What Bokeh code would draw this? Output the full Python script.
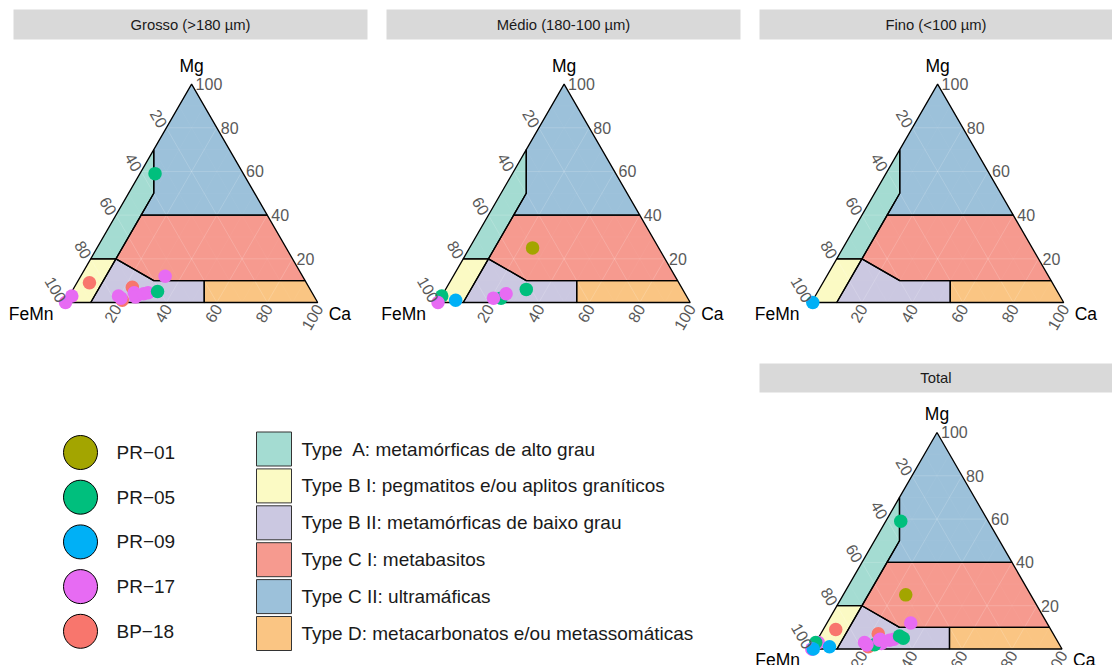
import numpy as np
from bokeh.plotting import figure
from bokeh.models import Range1d, ColumnDataSource
from bokeh.embed import file_html
from bokeh.resources import INLINE
from bokeh.core.properties import value

W, H = 1112, 665
FONT = value("Liberation Sans")

# ---------------------------------------------------------------- samples
sample_names = ["PR-01", "PR-05", "PR-09", "PR-17", "BP-18"]
sample_labels = ["PR\u221201", "PR\u221205", "PR\u221209", "PR\u221217", "BP\u221218"]
sample_colors = ["#A3A500", "#00BF7D", "#00B0F6", "#E76BF3", "#F8766D"]

# Grosso (>180 µm) -- Ca, Mg, FeMn (%)
grosso_sample = ["BP-18", "BP-18", "BP-18",
                 "PR-17", "PR-17", "PR-17", "PR-17", "PR-17", "PR-17", "PR-17", "PR-17", "PR-17",
                 "PR-05", "PR-05"]
grosso_ca = [5, 23, 22, 0, 1, 19.5, 21, 25, 26.5, 29, 30.5, 33.5, 6, 34]
grosso_mg = [9, 7, 1, 0, 3, 3, 2, 4.5, 2.5, 4, 4.5, 12, 59, 5]
grosso_femn = [86, 70, 77, 100, 96, 77.5, 77, 70.5, 71, 67, 65, 54.5, 35, 61]

# Médio (180-100 µm)
medio_sample = ["PR-05", "PR-05", "PR-05", "PR-09", "PR-17", "PR-17", "PR-17", "PR-01"]
medio_ca = [0, 24, 32, 6.5, 0, 21, 25, 25]
medio_mg = [3, 2, 6, 1, 0, 2, 4, 25]
medio_femn = [97, 74, 62, 92.5, 100, 77, 71, 50]

# Fino (<100 µm)
fino_sample = ["PR-09"]
fino_ca = [0.5]
fino_mg = [0]
fino_femn = [99.5]

# ---------------------------------------------------------------- garnet fields
type_labels = ["Type\u00a0 A: metam\u00f3rficas de alto grau",
               "Type B I: pegmatitos e/ou aplitos gran\u00edticos",
               "Type B II: metam\u00f3rficas de baixo grau",
               "Type C I: metabasitos",
               "Type C II: ultram\u00e1ficas",
               "Type D: metacarbonatos e/ou metassom\u00e1ticas"]
type_colors = ["#A4DCD2", "#FBFAC4", "#CBC8E1", "#F69A8F", "#9CC1DA", "#FAC583"]
# field corners as (Ca, Mg, FeMn)
type_fields = [
    [(0, 70, 30), (10, 50, 40), (10, 40, 50), (10, 20, 70), (0, 20, 80)],
    [(0, 20, 80), (10, 20, 70), (10, 0, 90), (0, 0, 100)],
    [(10, 20, 70), (30, 10, 60), (50, 10, 40), (55, 0, 45), (10, 0, 90)],
    [(10, 40, 50), (60, 40, 0), (90, 10, 0), (30, 10, 60), (10, 20, 70)],
    [(0, 100, 0), (60, 40, 0), (10, 40, 50), (10, 50, 40), (0, 70, 30)],
    [(50, 10, 40), (90, 10, 0), (100, 0, 0), (55, 0, 45)],
]

axis_ticks = [20, 40, 60, 80, 100]

# ---------------------------------------------------------------- panels (screen layout)
S3 = np.sqrt(3) / 2
panels = [
    dict(title="Grosso (>180 \u00b5m)", left=65.0, base=302.0, side=252.2, strip=(13, 367, 9, 39),
         sample=grosso_sample, ca=grosso_ca, mg=grosso_mg, femn=grosso_femn),
    dict(title="M\u00e9dio (180-100 \u00b5m)", left=437.5, base=302.0, side=252.2, strip=(386, 740, 9, 39),
         sample=medio_sample, ca=medio_ca, mg=medio_mg, femn=medio_femn),
    dict(title="Fino (<100 \u00b5m)", left=811.0, base=302.0, side=252.2, strip=(759, 1112, 9, 39),
         sample=fino_sample, ca=fino_ca, mg=fino_mg, femn=fino_femn),
    dict(title="Total", left=811.5, base=648.5, side=250.0, strip=(759, 1112, 363, 392),
         sample=grosso_sample + medio_sample + fino_sample,
         ca=grosso_ca + medio_ca + fino_ca,
         mg=grosso_mg + medio_mg + fino_mg,
         femn=grosso_femn + medio_femn + fino_femn),
]


def tern_xy(ca, mg, femn, pn):
    ca = np.asarray(ca, float)
    mg = np.asarray(mg, float)
    femn = np.asarray(femn, float)
    tot = ca + mg + femn
    a, b = ca / tot, mg / tot
    x = pn["left"] + pn["side"] * (a + b / 2)
    y = H - (pn["base"] - pn["side"] * S3 * b)
    return x, y


p = figure(width=W, height=H, x_range=Range1d(0, W), y_range=Range1d(0, H),
           output_backend="svg", toolbar_location=None, min_border=0,
           x_axis_location=None, y_axis_location=None)
p.grid.visible = False
p.outline_line_color = None
p.background_fill_color = "white"
p.border_fill_color = "white"

color_of = dict(zip(sample_names, sample_colors))
TICK_SIZE = "16px"

for pn in panels:
    # strip
    x0, x1, y0, y1 = pn["strip"]
    p.quad(left=x0, right=x1, top=H - y0, bottom=H - y1,
           fill_color="#D9D9D9", line_color=None)
    p.text(x=[(x0 + x1) / 2], y=[H - (y0 + y1) / 2], text=[pn["title"]],
           text_align="center", text_baseline="middle", text_font=FONT,
           text_font_size="14.8px", text_color="#1A1A1A")

    # fields
    xs, ys = [], []
    for field in type_fields:
        c, m, f = zip(*field)
        fx, fy = tern_xy(c, m, f, pn)
        xs.append(list(fx))
        ys.append(list(fy))
    p.patches(xs=xs, ys=ys, fill_color=type_colors, line_color=None)

    # faint grid
    gx, gy, gmx, gmy = [], [], [], []
    for v in range(10, 100, 10):
        w = 100 - v
        segs = [((v, 0, w), (v, w, 0)),      # constant Ca
                ((0, v, w), (w, v, 0)),      # constant Mg
                ((0, w, v), (w, 0, v))]      # constant FeMn
        for s0, s1 in segs:
            sx, sy = tern_xy([s0[0], s1[0]], [s0[1], s1[1]], [s0[2], s1[2]], pn)
            if v % 20 == 0:
                gx.append(list(sx)); gy.append(list(sy))
            else:
                gmx.append(list(sx)); gmy.append(list(sy))
    p.multi_line(xs=gmx, ys=gmy, line_color="white", line_alpha=0.07, line_width=0.6)
    p.multi_line(xs=gx, ys=gy, line_color="white", line_alpha=0.17, line_width=1)

    # field outlines
    p.patches(xs=xs, ys=ys, fill_color=None, line_color="black", line_width=1.3)

    # points
    px, py = tern_xy(pn["ca"], pn["mg"], pn["femn"], pn)
    src = ColumnDataSource(dict(x=px, y=py, c=[color_of[s] for s in pn["sample"]]))
    p.scatter("x", "y", source=src, size=13.5, fill_color="c", line_color=None)

    # tick labels: Mg (right edge)
    t = np.array(axis_ticks, float)
    rx, ry = tern_xy(100 - t, t, 0 * t, pn)
    p.text(x=rx + 4, y=ry, text=[str(int(v)) for v in t], text_align="left",
           text_baseline="middle", text_font=FONT, text_font_size=TICK_SIZE,
           text_color="#595959")
    # FeMn (left edge)
    lx, ly = tern_xy(0 * t, 100 - t, t, pn)
    p.text(x=lx - 3, y=ly + 1.5, text=[str(int(v)) for v in t], angle=-np.pi / 3,
           text_align="right", text_baseline="middle", text_font=FONT,
           text_font_size=TICK_SIZE, text_color="#595959")
    # Ca (bottom edge)
    bx, by = tern_xy(t, 0 * t, 100 - t, pn)
    p.text(x=bx + 1, y=by - 3, text=[str(int(v)) for v in t], angle=np.pi / 3,
           text_align="right", text_baseline="middle", text_font=FONT,
           text_font_size=TICK_SIZE, text_color="#595959")

    # vertex titles
    vx, vy = tern_xy([0, 100, 0], [100, 0, 0], [0, 0, 100], pn)
    p.text(x=[vx[0]], y=[vy[0] + 18.5], text=["Mg"], text_align="center",
           text_baseline="middle", text_font=FONT, text_font_size="17.5px", text_color="black")
    p.text(x=[vx[1] + 11], y=[vy[1] - 11], text=["Ca"], text_align="left",
           text_baseline="middle", text_font=FONT, text_font_size="17.5px", text_color="black")
    p.text(x=[vx[2] - 12], y=[vy[2] - 11], text=["FeMn"], text_align="right",
           text_baseline="middle", text_font=FONT, text_font_size="17.5px", text_color="black")

# ---------------------------------------------------------------- legends
leg_y = H - (452 + 44.7 * np.arange(len(sample_names)))
p.scatter(x=[80] * len(sample_names), y=leg_y, size=34, fill_color=sample_colors,
          line_color="black", line_width=1)
p.text(x=[116] * len(sample_names), y=leg_y, text=sample_labels, text_align="left",
       text_baseline="middle", text_font=FONT, text_font_size="19px", text_color="#1A1A1A")

type_y = H - (448.5 + 36.9 * np.arange(len(type_labels)))
p.rect(x=[273.5] * len(type_labels), y=type_y, width=35, height=34,
       fill_color=type_colors, line_color="#333333", line_width=1)
p.text(x=[301] * len(type_labels), y=type_y, text=type_labels, text_align="left",
       text_baseline="middle", text_font=FONT, text_font_size="19px", text_color="#1A1A1A")

open("out.html", "w").write(file_html(p, INLINE))
